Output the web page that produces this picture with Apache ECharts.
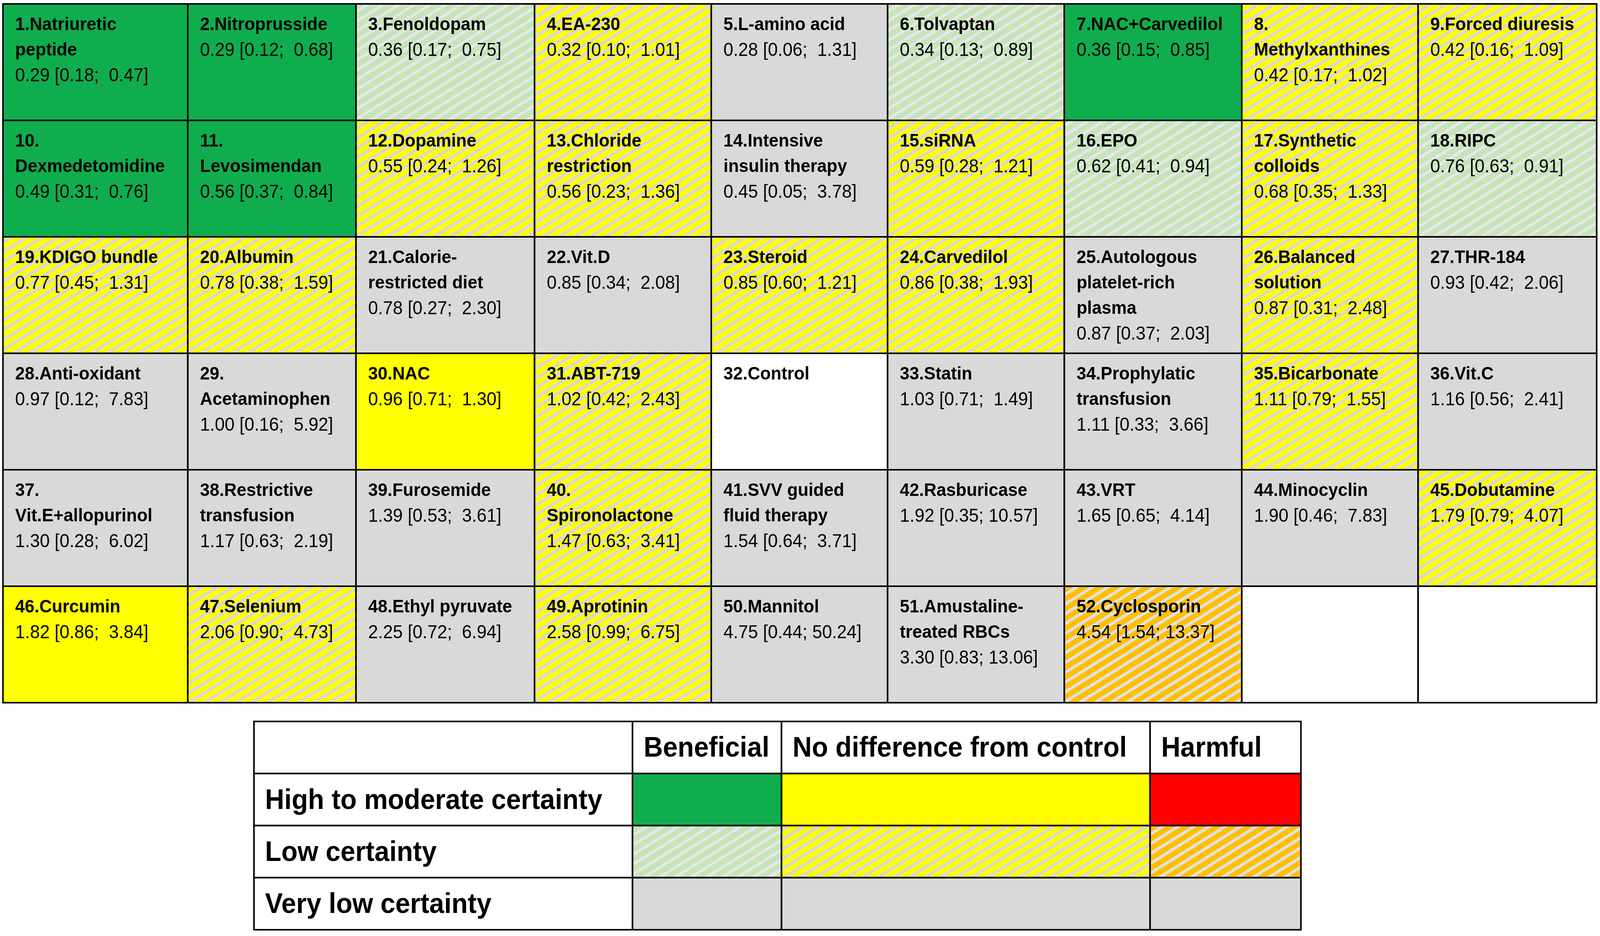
<!DOCTYPE html>
<html>
<head>
<meta charset="utf-8">
<title>Network meta-analysis ranking</title>
<script src="https://cdn.jsdelivr.net/npm/echarts@6/dist/echarts.min.js"></script>
<style>
  html, body { margin: 0; padding: 0; background: #fff; overflow: hidden; }
  #chart { width: 100vw; height: 100vh; }
</style>
</head>
<body>
<div id="chart"></div>
<script>
// treatment names (line breaks as in the figure), numbered 1..52
const names = [
  "Natriuretic\npeptide", "Nitroprusside", "Fenoldopam", "EA-230", "L-amino acid",
  "Tolvaptan", "NAC+Carvedilol", "\nMethylxanthines", "Forced diuresis",
  "\nDexmedetomidine", "\nLevosimendan", "Dopamine", "Chloride\nrestriction",
  "Intensive\ninsulin therapy", "siRNA", "EPO", "Synthetic\ncolloids", "RIPC",
  "KDIGO bundle", "Albumin", "Calorie-\nrestricted diet", "Vit.D", "Steroid",
  "Carvedilol", "Autologous\nplatelet-rich\nplasma", "Balanced\nsolution", "THR-184",
  "Anti-oxidant", "\nAcetaminophen", "NAC", "ABT-719", "Control", "Statin",
  "Prophylatic\ntransfusion", "Bicarbonate", "Vit.C",
  "\nVit.E+allopurinol", "Restrictive\ntransfusion", "Furosemide", "\nSpironolactone",
  "SVV guided\nfluid therapy", "Rasburicase", "VRT", "Minocyclin", "Dobutamine",
  "Curcumin", "Selenium", "Ethyl pyruvate", "Aprotinin", "Mannitol",
  "Amustaline-\ntreated RBCs", "Cyclosporin"
];

// odds ratio [95% CI]
const est = [
  0.29, 0.29, 0.36, 0.32, 0.28, 0.34, 0.36, 0.42, 0.42,
  0.49, 0.56, 0.55, 0.56, 0.45, 0.59, 0.62, 0.68, 0.76,
  0.77, 0.78, 0.78, 0.85, 0.85, 0.86, 0.87, 0.87, 0.93,
  0.97, 1.00, 0.96, 1.02, null, 1.03, 1.11, 1.11, 1.16,
  1.30, 1.17, 1.39, 1.47, 1.54, 1.92, 1.65, 1.90, 1.79,
  1.82, 2.06, 2.25, 2.58, 4.75, 3.30, 4.54
];
const lower = [
  0.18, 0.12, 0.17, 0.10, 0.06, 0.13, 0.15, 0.17, 0.16,
  0.31, 0.37, 0.24, 0.23, 0.05, 0.28, 0.41, 0.35, 0.63,
  0.45, 0.38, 0.27, 0.34, 0.60, 0.38, 0.37, 0.31, 0.42,
  0.12, 0.16, 0.71, 0.42, null, 0.71, 0.33, 0.79, 0.56,
  0.28, 0.63, 0.53, 0.63, 0.64, 0.35, 0.65, 0.46, 0.79,
  0.86, 0.90, 0.72, 0.99, 0.44, 0.83, 1.54
];
const upper = [
  0.47, 0.68, 0.75, 1.01, 1.31, 0.89, 0.85, 1.02, 1.09,
  0.76, 0.84, 1.26, 1.36, 3.78, 1.21, 0.94, 1.33, 0.91,
  1.31, 1.59, 2.30, 2.08, 1.21, 1.93, 2.03, 2.48, 2.06,
  7.83, 5.92, 1.30, 2.43, null, 1.49, 3.66, 1.55, 2.41,
  6.02, 2.19, 3.61, 3.41, 3.71, 10.57, 4.14, 7.83, 4.07,
  3.84, 4.73, 6.94, 6.75, 50.24, 13.06, 13.37
];

// B = beneficial, N = no difference, H = harmful, C = control
const effect = [
  "B", "B", "B", "N", "N", "B", "B", "N", "N",
  "B", "B", "N", "N", "N", "N", "B", "N", "B",
  "N", "N", "N", "N", "N", "N", "N", "N", "N",
  "N", "N", "N", "N", "C", "N", "N", "N", "N",
  "N", "N", "N", "N", "N", "N", "N", "N", "N",
  "N", "N", "N", "N", "N", "N", "H"
];
// M = high to moderate, L = low, V = very low
const certainty = [
  "M", "M", "L", "L", "V", "L", "M", "L", "L",
  "M", "M", "L", "L", "V", "L", "L", "L", "L",
  "L", "L", "V", "V", "L", "L", "V", "L", "V",
  "V", "V", "M", "L", "", "V", "V", "L", "V",
  "V", "V", "V", "L", "V", "V", "V", "V", "L",
  "M", "L", "V", "L", "V", "V", "L"
];

const legendCols = ["Beneficial", "No difference from control", "Harmful"];
const legendRows = ["High to moderate certainty", "Low certainty", "Very low certainty"];
const legendEffect = ["B", "N", "H"];
const legendCert = ["M", "L", "V"];

const NCOL = 9, NROW = 6;
// the figure was laid out on a 4328 x 2395 page; everything is scaled to the real one
const BASE_W = 4328, BASE_H = 2395;
// column edges of the main table and of the legend, in axis units
const colEdges = [0, 500, 955, 1438, 1916, 2393, 2871, 3351, 3828, 4311];
const legendEdges = [0, 1024, 1427, 2424, 2832];
const FONT = "Liberation Sans, Arial, sans-serif";

const myChart = echarts.init(document.querySelector("#chart"));
const W = myChart.getWidth();
const H = myChart.getHeight();
const sx = W / BASE_W;
const sy = H / BASE_H;

// diagonal stripes rising to the right (~31 deg), one stripe per tile
function hatch(base, stripe) {
  const tw = Math.round(42 * sx);
  const th = Math.round(25 * sy);
  const c = document.createElement("canvas");
  c.width = tw;
  c.height = th;
  const g = c.getContext("2d");
  g.fillStyle = base;
  g.fillRect(0, 0, tw, th);
  g.strokeStyle = stripe;
  g.lineWidth = 7.5;
  for (let k = -1; k <= 3; k++) {
    g.beginPath();
    g.moveTo(-tw, th * k + th);
    g.lineTo(2 * tw, th * k - 2 * th);
    g.stroke();
  }
  return { image: c, repeat: "repeat" };
}

const fills = {
  BM: "#10AD4F",
  NM: "#FFFF00",
  HM: "#FF0000",
  BL: hatch("#C5E6B4", "#E8E4EE"),
  NL: hatch("#FFFF00", "#D6D6E0"),
  HL: hatch("#FFC000", "#E0E0E4"),
  V: "#D9D9D9",
};

function fillOf(e, c) {
  if (!e || e === "C") return "#FFFFFF";
  if (c === "V") return fills.V;
  return fills[e + c];
}

const rich = {
  b: { fontFamily: FONT, fontWeight: "bold", fontSize: 47, lineHeight: 65, fill: "#000" },
  v: { fontFamily: FONT, fontWeight: "normal", fontSize: 48, lineHeight: 65, fill: "#000" },
};

function cellText(i) {
  const lines = (i + 1 + "." + names[i]).split("\n").map((l) => "{b|" + l + "}");
  if (est[i] != null) {
    const hi = upper[i].toFixed(2).padStart(6, " ");
    lines.push("{v|" + est[i].toFixed(2) + " [" + lower[i].toFixed(2) + ";" + hi + "]}");
  }
  return lines.join("\n");
}

function renderCell(params, api) {
  const col = api.value(0);
  const row = api.value(1);
  const i = api.value(2);
  const x0 = api.coord([colEdges[col], row])[0];
  const x1 = api.coord([colEdges[col + 1], row])[0];
  const yc = api.coord([0, row])[1];
  const h = api.size([0, 1])[1];
  const y = yc - h / 2;
  const children = [
    {
      type: "rect",
      shape: { x: x0, y: y, width: x1 - x0, height: h },
      style: { fill: fillOf(effect[i], certainty[i]), stroke: "#000", lineWidth: 4 },
    },
  ];
  if (i < names.length) {
    children.push({
      type: "text",
      x: x0 + 33 * sx,
      y: y + 22 * sy,
      scaleX: sx,
      scaleY: sy,
      style: { text: cellText(i), rich: rich, align: "left", verticalAlign: "top" },
    });
  }
  return { type: "group", children: children };
}

function renderLegend(params, api) {
  const col = api.value(0);
  const row = api.value(1);
  const x0 = api.coord([legendEdges[col], row])[0];
  const x1 = api.coord([legendEdges[col + 1], row])[0];
  const yc = api.coord([0, row])[1];
  const h = api.size([0, 1])[1];
  let fill = "#FFFFFF";
  let text = "";
  if (row === 0 && col > 0) text = legendCols[col - 1];
  if (col === 0 && row > 0) text = legendRows[row - 1];
  if (row > 0 && col > 0) fill = fillOf(legendEffect[col - 1], legendCert[row - 1]);
  const children = [
    {
      type: "rect",
      shape: { x: x0, y: yc - h / 2, width: x1 - x0, height: h },
      style: { fill: fill, stroke: "#000", lineWidth: 4 },
    },
  ];
  if (text) {
    children.push({
      type: "text",
      x: x0 + 30 * sx,
      y: yc + 4 * sy,
      scaleX: sx,
      scaleY: sy,
      style: {
        text: text,
        fontFamily: FONT,
        fontWeight: "bold",
        fontSize: 72,
        fill: "#000",
        align: "left",
        verticalAlign: "middle",
      },
    });
  }
  return { type: "group", children: children };
}

const cellData = [];
for (let i = 0; i < NCOL * NROW; i++) {
  cellData.push([i % NCOL, Math.floor(i / NCOL), i]);
}
const legendData = [];
for (let r = 0; r < 4; r++) {
  for (let c = 0; c < 4; c++) legendData.push([c, r]);
}

const option = {
  animation: false,
  backgroundColor: "#fff",
  grid: [
    { left: 8 * sx, top: 10 * sy, width: 4311 * sx, height: 1788 * sy },
    { left: 687 * sx, top: 1846 * sy, width: 2832 * sx, height: 533 * sy },
  ],
  xAxis: [
    { gridIndex: 0, type: "value", min: 0, max: colEdges[NCOL], show: false },
    { gridIndex: 1, type: "value", min: 0, max: legendEdges[4], show: false },
  ],
  yAxis: [
    { gridIndex: 0, type: "category", data: [...Array(NROW).keys()].map(String), inverse: true, show: false },
    { gridIndex: 1, type: "category", data: ["0", "1", "2", "3"], inverse: true, show: false },
  ],
  series: [
    {
      type: "custom",
      xAxisIndex: 0,
      yAxisIndex: 0,
      renderItem: renderCell,
      data: cellData,
      silent: true,
    },
    {
      type: "custom",
      xAxisIndex: 1,
      yAxisIndex: 1,
      renderItem: renderLegend,
      data: legendData,
      silent: true,
    },
  ],
};
myChart.setOption(option);
window.addEventListener("resize", () => {
  myChart.resize();
});
</script>
</body>
</html>
